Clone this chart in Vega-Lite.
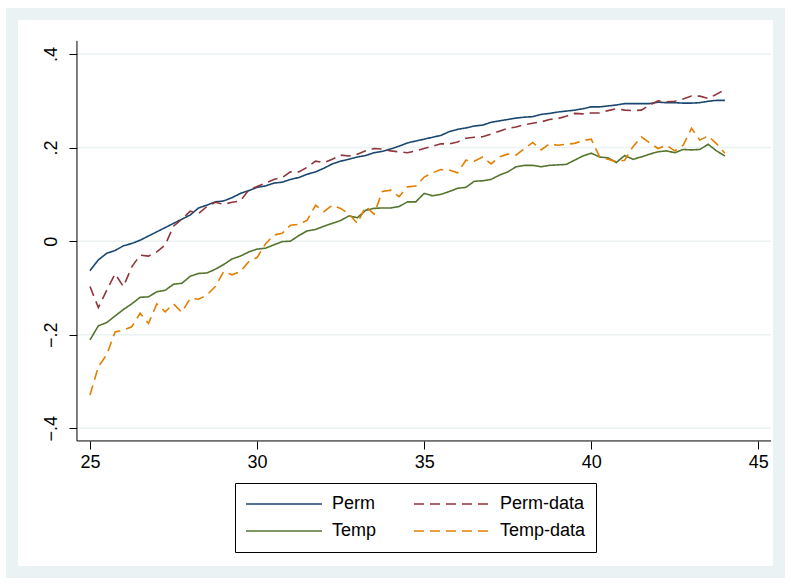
{
  "$schema": "https://vega.github.io/schema/vega-lite/v6.json",
  "autosize": {"type": "none"},
  "padding": {"left": 12, "top": 14, "right": 12, "bottom": 12},
  "width": 767,
  "height": 558,
  "background": "white",
  "view": {"fill": "white", "stroke": "#eaf2f3", "strokeWidth": 12},
  "config": {"font": "Liberation Sans"},
  "datasets": {
    "grid": [{"g": -0.4}, {"g": -0.2}, {"g": 0}, {"g": 0.2}, {"g": 0.4}],
    "series": [
      {"t": 25, "Perm": -0.063, "Perm-data": -0.097, "Temp": -0.211, "Temp-data": -0.329},
      {"t": 25.25, "Perm": -0.040, "Perm-data": -0.142, "Temp": -0.181, "Temp-data": -0.268},
      {"t": 25.5, "Perm": -0.026, "Perm-data": -0.105, "Temp": -0.174, "Temp-data": -0.243},
      {"t": 25.75, "Perm": -0.020, "Perm-data": -0.070, "Temp": -0.160, "Temp-data": -0.194},
      {"t": 26, "Perm": -0.010, "Perm-data": -0.097, "Temp": -0.146, "Temp-data": -0.190},
      {"t": 26.25, "Perm": -0.005, "Perm-data": -0.055, "Temp": -0.134, "Temp-data": -0.183},
      {"t": 26.5, "Perm": 0.002, "Perm-data": -0.030, "Temp": -0.120, "Temp-data": -0.154},
      {"t": 26.75, "Perm": 0.011, "Perm-data": -0.032, "Temp": -0.119, "Temp-data": -0.176},
      {"t": 27, "Perm": 0.020, "Perm-data": -0.023, "Temp": -0.108, "Temp-data": -0.134},
      {"t": 27.25, "Perm": 0.029, "Perm-data": -0.008, "Temp": -0.105, "Temp-data": -0.151},
      {"t": 27.5, "Perm": 0.038, "Perm-data": 0.032, "Temp": -0.092, "Temp-data": -0.134},
      {"t": 27.75, "Perm": 0.047, "Perm-data": 0.047, "Temp": -0.090, "Temp-data": -0.152},
      {"t": 28, "Perm": 0.056, "Perm-data": 0.064, "Temp": -0.075, "Temp-data": -0.122},
      {"t": 28.25, "Perm": 0.071, "Perm-data": 0.059, "Temp": -0.069, "Temp-data": -0.124},
      {"t": 28.5, "Perm": 0.077, "Perm-data": 0.074, "Temp": -0.068, "Temp-data": -0.115},
      {"t": 28.75, "Perm": 0.084, "Perm-data": 0.083, "Temp": -0.060, "Temp-data": -0.097},
      {"t": 29, "Perm": 0.086, "Perm-data": 0.079, "Temp": -0.050, "Temp-data": -0.065},
      {"t": 29.25, "Perm": 0.093, "Perm-data": 0.083, "Temp": -0.038, "Temp-data": -0.072},
      {"t": 29.5, "Perm": 0.102, "Perm-data": 0.086, "Temp": -0.032, "Temp-data": -0.065},
      {"t": 29.75, "Perm": 0.108, "Perm-data": 0.109, "Temp": -0.023, "Temp-data": -0.044},
      {"t": 30, "Perm": 0.115, "Perm-data": 0.117, "Temp": -0.017, "Temp-data": -0.035},
      {"t": 30.25, "Perm": 0.118, "Perm-data": 0.124, "Temp": -0.015, "Temp-data": -0.006},
      {"t": 30.5, "Perm": 0.124, "Perm-data": 0.132, "Temp": -0.008, "Temp-data": 0.013},
      {"t": 30.75, "Perm": 0.126, "Perm-data": 0.136, "Temp": -0.001, "Temp-data": 0.017},
      {"t": 31, "Perm": 0.132, "Perm-data": 0.148, "Temp": 0.000, "Temp-data": 0.034},
      {"t": 31.25, "Perm": 0.136, "Perm-data": 0.148, "Temp": 0.012, "Temp-data": 0.036},
      {"t": 31.5, "Perm": 0.143, "Perm-data": 0.158, "Temp": 0.022, "Temp-data": 0.045},
      {"t": 31.75, "Perm": 0.148, "Perm-data": 0.171, "Temp": 0.025, "Temp-data": 0.077},
      {"t": 32, "Perm": 0.156, "Perm-data": 0.168, "Temp": 0.032, "Temp-data": 0.063},
      {"t": 32.25, "Perm": 0.165, "Perm-data": 0.175, "Temp": 0.038, "Temp-data": 0.077},
      {"t": 32.5, "Perm": 0.171, "Perm-data": 0.184, "Temp": 0.044, "Temp-data": 0.070},
      {"t": 32.75, "Perm": 0.175, "Perm-data": 0.182, "Temp": 0.054, "Temp-data": 0.058},
      {"t": 33, "Perm": 0.180, "Perm-data": 0.186, "Temp": 0.050, "Temp-data": 0.038},
      {"t": 33.25, "Perm": 0.183, "Perm-data": 0.193, "Temp": 0.066, "Temp-data": 0.074},
      {"t": 33.5, "Perm": 0.189, "Perm-data": 0.198, "Temp": 0.070, "Temp-data": 0.058},
      {"t": 33.75, "Perm": 0.192, "Perm-data": 0.197, "Temp": 0.071, "Temp-data": 0.106},
      {"t": 34, "Perm": 0.197, "Perm-data": 0.193, "Temp": 0.071, "Temp-data": 0.109},
      {"t": 34.25, "Perm": 0.203, "Perm-data": 0.191, "Temp": 0.074, "Temp-data": 0.095},
      {"t": 34.5, "Perm": 0.210, "Perm-data": 0.189, "Temp": 0.084, "Temp-data": 0.116},
      {"t": 34.75, "Perm": 0.214, "Perm-data": 0.193, "Temp": 0.084, "Temp-data": 0.118},
      {"t": 35, "Perm": 0.218, "Perm-data": 0.198, "Temp": 0.102, "Temp-data": 0.137},
      {"t": 35.25, "Perm": 0.222, "Perm-data": 0.203, "Temp": 0.097, "Temp-data": 0.146},
      {"t": 35.5, "Perm": 0.226, "Perm-data": 0.208, "Temp": 0.100, "Temp-data": 0.153},
      {"t": 35.75, "Perm": 0.234, "Perm-data": 0.208, "Temp": 0.106, "Temp-data": 0.152},
      {"t": 36, "Perm": 0.239, "Perm-data": 0.212, "Temp": 0.113, "Temp-data": 0.146},
      {"t": 36.25, "Perm": 0.242, "Perm-data": 0.220, "Temp": 0.115, "Temp-data": 0.173},
      {"t": 36.5, "Perm": 0.246, "Perm-data": 0.222, "Temp": 0.128, "Temp-data": 0.171},
      {"t": 36.75, "Perm": 0.248, "Perm-data": 0.223, "Temp": 0.129, "Temp-data": 0.180},
      {"t": 37, "Perm": 0.254, "Perm-data": 0.229, "Temp": 0.132, "Temp-data": 0.165},
      {"t": 37.25, "Perm": 0.257, "Perm-data": 0.235, "Temp": 0.141, "Temp-data": 0.180},
      {"t": 37.5, "Perm": 0.260, "Perm-data": 0.241, "Temp": 0.148, "Temp-data": 0.186},
      {"t": 37.75, "Perm": 0.263, "Perm-data": 0.244, "Temp": 0.159, "Temp-data": 0.184},
      {"t": 38, "Perm": 0.265, "Perm-data": 0.249, "Temp": 0.162, "Temp-data": 0.198},
      {"t": 38.25, "Perm": 0.266, "Perm-data": 0.252, "Temp": 0.162, "Temp-data": 0.211},
      {"t": 38.5, "Perm": 0.271, "Perm-data": 0.255, "Temp": 0.159, "Temp-data": 0.195},
      {"t": 38.75, "Perm": 0.273, "Perm-data": 0.260, "Temp": 0.162, "Temp-data": 0.208},
      {"t": 39, "Perm": 0.276, "Perm-data": 0.262, "Temp": 0.163, "Temp-data": 0.205},
      {"t": 39.25, "Perm": 0.278, "Perm-data": 0.267, "Temp": 0.164, "Temp-data": 0.207},
      {"t": 39.5, "Perm": 0.280, "Perm-data": 0.273, "Temp": 0.173, "Temp-data": 0.209},
      {"t": 39.75, "Perm": 0.283, "Perm-data": 0.272, "Temp": 0.182, "Temp-data": 0.215},
      {"t": 40, "Perm": 0.287, "Perm-data": 0.274, "Temp": 0.188, "Temp-data": 0.218},
      {"t": 40.25, "Perm": 0.287, "Perm-data": 0.274, "Temp": 0.180, "Temp-data": 0.180},
      {"t": 40.5, "Perm": 0.289, "Perm-data": 0.279, "Temp": 0.178, "Temp-data": 0.175},
      {"t": 40.75, "Perm": 0.291, "Perm-data": 0.283, "Temp": 0.168, "Temp-data": 0.170},
      {"t": 41, "Perm": 0.294, "Perm-data": 0.280, "Temp": 0.183, "Temp-data": 0.173},
      {"t": 41.25, "Perm": 0.294, "Perm-data": 0.279, "Temp": 0.175, "Temp-data": 0.202},
      {"t": 41.5, "Perm": 0.294, "Perm-data": 0.280, "Temp": 0.180, "Temp-data": 0.223},
      {"t": 41.75, "Perm": 0.294, "Perm-data": 0.291, "Temp": 0.186, "Temp-data": 0.210},
      {"t": 42, "Perm": 0.297, "Perm-data": 0.300, "Temp": 0.191, "Temp-data": 0.198},
      {"t": 42.25, "Perm": 0.296, "Perm-data": 0.298, "Temp": 0.193, "Temp-data": 0.205},
      {"t": 42.5, "Perm": 0.296, "Perm-data": 0.299, "Temp": 0.189, "Temp-data": 0.193},
      {"t": 42.75, "Perm": 0.295, "Perm-data": 0.304, "Temp": 0.196, "Temp-data": 0.205},
      {"t": 43, "Perm": 0.295, "Perm-data": 0.310, "Temp": 0.195, "Temp-data": 0.241},
      {"t": 43.25, "Perm": 0.296, "Perm-data": 0.310, "Temp": 0.196, "Temp-data": 0.216},
      {"t": 43.5, "Perm": 0.299, "Perm-data": 0.305, "Temp": 0.207, "Temp-data": 0.225},
      {"t": 43.75, "Perm": 0.301, "Perm-data": 0.314, "Temp": 0.193, "Temp-data": 0.208},
      {"t": 44, "Perm": 0.301, "Perm-data": 0.324, "Temp": 0.182, "Temp-data": 0.188}
    ]
  },
  "layer": [
    {
      "data": {"name": "grid"},
      "mark": {"type": "rule", "color": "#eaf2f3", "strokeWidth": 1.5},
      "encoding": {
        "y": {
          "field": "g", "type": "quantitative",
          "scale": {"domain": [-0.7071, 0.4855], "nice": false, "zero": false},
          "axis": {
            "orient": "left", "offset": -65, "values": [-0.4, -0.2, 0, 0.2, 0.4],
            "labelExpr": "datum.value == 0 ? '0' : replace(format(datum.value, '.1f'), '0.', '.')",
            "title": null, "grid": false, "domain": false,
            "tickSize": 8, "tickColor": "black", "tickWidth": 1,
            "labelAngle": 270, "labelFontSize": 18, "labelColor": "black", "labelPadding": 9, "labelFont": "Liberation Sans"
          }
        },
        "x": {"datum": 24.61, "type": "quantitative", "scale": {"domain": [22.666, 45.619], "nice": false, "zero": false}},
        "x2": {"datum": 45.38}
      }
    },
    {
      "data": {"values": [{"a": 0}]},
      "mark": {"type": "rule", "color": "black", "strokeWidth": 1},
      "encoding": {
        "x": {"datum": 24.61, "type": "quantitative"},
        "y": {"datum": -0.427, "type": "quantitative"},
        "y2": {"datum": 0.428}
      }
    },
    {
      "data": {"values": [{"a": 0}]},
      "mark": {"type": "rule", "color": "black", "strokeWidth": 1},
      "encoding": {
        "y": {"datum": -0.427, "type": "quantitative"},
        "x": {"datum": 24.61, "type": "quantitative"},
        "x2": {"datum": 45.38}
      }
    },
    {
      "data": {"name": "series"},
      "transform": [{"fold": ["Perm", "Perm-data", "Temp", "Temp-data"], "as": ["series", "v"]}],
      "mark": {"type": "line", "strokeWidth": 1.6, "clip": false},
      "encoding": {
        "x": {
          "field": "t", "type": "quantitative",
          "axis": {
            "orient": "bottom", "offset": -131, "values": [25, 30, 35, 40, 45],
            "title": null, "grid": false, "domain": false,
            "tickSize": 8, "tickColor": "black", "tickWidth": 1,
            "labelFontSize": 18, "labelColor": "black", "labelPadding": 4, "labelFont": "Liberation Sans"
          }
        },
        "y": {
          "field": "v", "type": "quantitative",
          "axis": {
            "orient": "left", "offset": -65, "values": [-0.4, -0.2, 0, 0.2, 0.4],
            "labelExpr": "datum.value == 0 ? '0' : replace(format(datum.value, '.1f'), '0.', '.')",
            "title": null, "grid": false, "domain": false,
            "tickSize": 8, "tickColor": "black", "tickWidth": 1,
            "labelAngle": 270, "labelFontSize": 18, "labelColor": "black", "labelPadding": 9, "labelFont": "Liberation Sans"
          }
        },
        "color": {
          "field": "series", "type": "nominal",
          "scale": {"domain": ["Perm", "Temp", "Perm-data", "Temp-data"], "range": ["#1a476f", "#55752f", "#90353b", "#e37e00"]},
          "legend": {
            "orient": "none", "legendX": 223, "legendY": 469, "columns": 2, "title": null,
            "fillColor": "white", "strokeColor": "black", "cornerRadius": 0, "padding": 10,
            "symbolType": "stroke", "symbolSize": 5776, "symbolStrokeWidth": 1.6,
            "labelFontSize": 18, "labelColor": "black", "labelFont": "Liberation Sans", "labelOffset": 9,
            "clipHeight": 22, "rowPadding": 5, "columnPadding": 36
          }
        },
        "strokeDash": {
          "field": "series", "type": "nominal",
          "scale": {"domain": ["Perm", "Temp", "Perm-data", "Temp-data"], "range": [[1, 0], [1, 0], [10, 6], [10, 6]]},
          "legend": {
            "orient": "none", "legendX": 223, "legendY": 469, "columns": 2, "title": null,
            "fillColor": "white", "strokeColor": "black", "cornerRadius": 0, "padding": 10,
            "symbolType": "stroke", "symbolSize": 5776, "symbolStrokeWidth": 1.6,
            "labelFontSize": 18, "labelColor": "black", "labelFont": "Liberation Sans", "labelOffset": 9,
            "clipHeight": 22, "rowPadding": 5, "columnPadding": 36
          }
        }
      }
    }
  ]
}
